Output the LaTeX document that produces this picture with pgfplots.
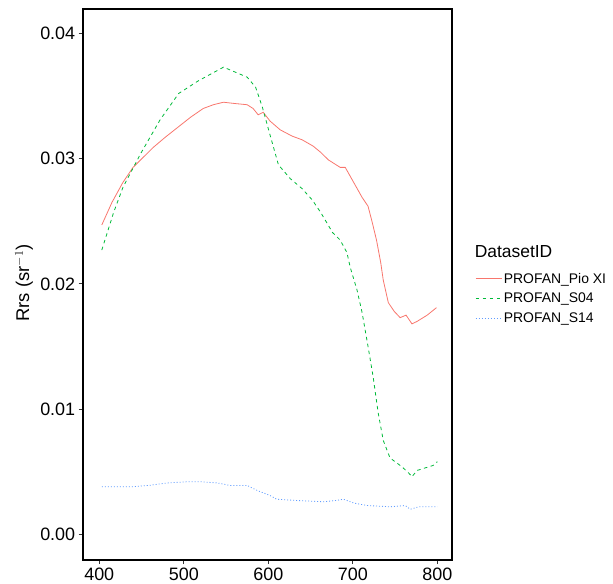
\documentclass[border=0pt]{standalone}
\usepackage{pgfplots}
\pgfplotsset{compat=1.18}
\usepackage{fontspec}
\setmainfont{Liberation Sans}
\definecolor{cRed}{HTML}{F8766D}
\definecolor{cGreen}{HTML}{00BA38}
\definecolor{cBlue}{HTML}{619CFF}
\definecolor{tickgray}{HTML}{333333}
\begin{document}
\begin{tikzpicture}
\begin{axis}[
  at={(0,0)}, anchor=south west,
  scale only axis,
  width=369bp, height=550.7bp,
  xmin=380.4, xmax=817,
  ymin=-0.00205, ymax=0.04192,
  xtick={400,500,600,700,800},
  ytick={0,0.01,0.02,0.03,0.04},
  yticklabel style={/pgf/number format/.cd,fixed,fixed zerofill,precision=2},
  /pgf/number format/assume math mode=true,
  scaled y ticks=false,
  tick align=outside,
  major tick length=4bp,
  tick style={color=tickgray, line width=0.8bp},
  xtick pos=bottom, ytick pos=left,
  axis line style={line width=1.8bp, black},
  ticklabel style={font=\fontsize{18}{20}\selectfont, text=black},
  ylabel={Rrs (sr$^{-1}$)},
  ylabel style={at={(axis description cs:-0.159,0.503)}, anchor=center, font=\fontsize{18.5}{21}\selectfont},
  legend style={draw=none, fill=none, at={(axis description cs:1.064,0.575)}, anchor=north west,
    inner sep=0pt, font=\fontsize{14}{16}\selectfont, row sep=5.5bp, nodes={inner sep=1.5bp}},
  legend cell align=left,
  legend image code/.code={\draw[#1] (0bp,0bp) -- (16bp,0bp); \path (0bp,0bp) -- (26bp,0bp);},
]
\addlegendimage{empty legend}
\addlegendentry{\hspace{-29bp}\raisebox{6bp}{\fontsize{17.5}{20}\selectfont DatasetID}}
\addplot[cRed, line width=0.8bp, solid] coordinates {
(403,0.0247) (415,0.0265) (428,0.0281) (440,0.0293) (452,0.0301) (464,0.0309)
(478,0.0317) (493,0.0325) (508,0.0333) (523,0.0340) (535,0.0343) (547,0.0345)
(560,0.0344) (575,0.0343) (582,0.0340) (588,0.0335) (594,0.0337) (602,0.0330)
(614,0.0323) (628,0.0318) (640,0.0315) (653,0.0310) (662,0.0305) (671,0.0299)
(685,0.0293) (691,0.0293) (701,0.0281) (711,0.0269) (718,0.0262) (723,0.0249)
(728,0.0235) (733,0.0217) (736,0.0203) (742,0.0185) (749,0.0178) (756,0.0173)
(763,0.0175) (770,0.0168) (776,0.0170) (788,0.0175) (799,0.0181)
};
\addlegendentry{PROFAN\_Pio XI}
\addplot[cGreen, line width=0.8bp, dash pattern=on 3.5bp off 3.5bp] coordinates {
(403,0.0227) (417,0.0257) (428,0.0277) (449,0.0304) (472,0.0331) (494,0.0352)
(517,0.0362) (547,0.0373) (575,0.0365) (585,0.0357) (593,0.0341) (602,0.0319)
(612,0.0295) (626,0.0284) (640,0.0276) (652,0.0267) (662,0.0257) (676,0.0241)
(685,0.0235) (693,0.0225) (697,0.0213) (705,0.0195) (711,0.0177) (718,0.0150)
(724,0.0126) (730,0.0097) (736,0.0075) (744,0.0061) (758,0.0054) (766,0.0049)
(770,0.0046) (776,0.0051) (795,0.0055) (800,0.0058)
};
\addlegendentry{PROFAN\_S04}
\addplot[cBlue, line width=0.8bp, dash pattern=on 1bp off 2bp] coordinates {
(403,0.0038) (420,0.0038) (439,0.0038) (458,0.0039) (480,0.0041) (505,0.0042)
(520,0.0042) (540,0.0041) (555,0.0039) (575,0.0039) (587,0.0035) (602,0.0031)
(610,0.0028) (634,0.0027) (665,0.0026) (680,0.0027) (689,0.0028) (701,0.0025)
(717,0.0023) (744,0.0022) (762,0.0023) (768,0.0020) (778,0.0022) (800,0.0022)
};
\addlegendentry{PROFAN\_S14}
\end{axis}
\pgfresetboundingbox
\path (-82.7bp,-24bp) rectangle (530.3bp,560bp);
\end{tikzpicture}
\end{document}
